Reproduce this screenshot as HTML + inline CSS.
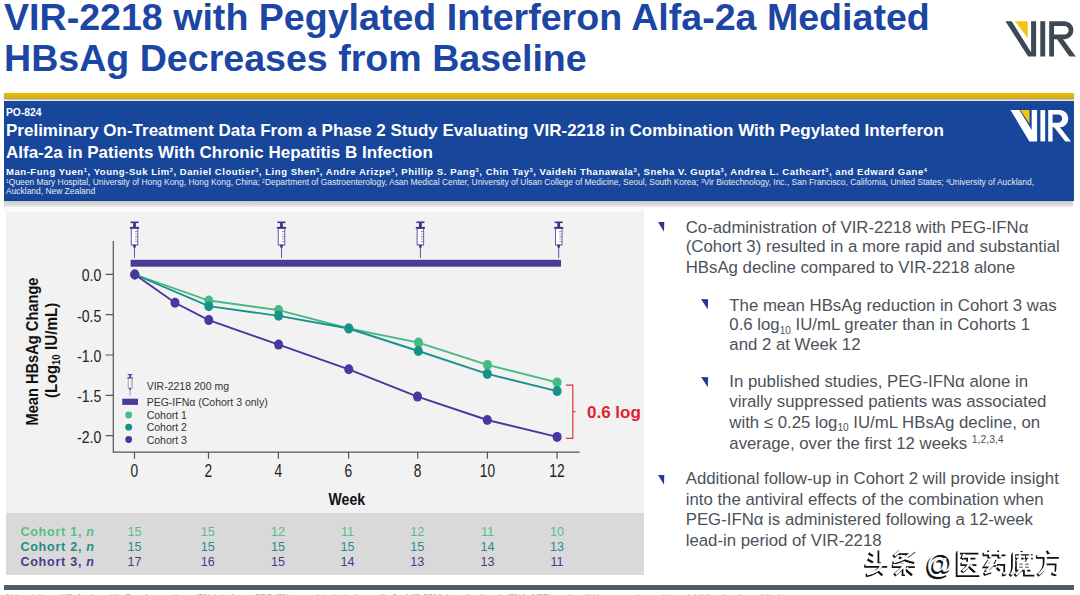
<!DOCTYPE html>
<html><head><meta charset="utf-8">
<style>
*{margin:0;padding:0;box-sizing:border-box}
html,body{width:1080px;height:595px;overflow:hidden;background:#fff;font-family:"Liberation Sans",sans-serif}
.abs{position:absolute;white-space:nowrap}
#t1,#t2{font-weight:bold;color:#1b46a4;font-size:37.6px;line-height:1;left:4px}
#t1{top:-0.8px}
#t2{top:40px}
#ybar{left:4px;top:93px;width:1070px;height:6px;background:linear-gradient(#e7be06,#e2b800 45%,#c8a533);box-shadow:0 1.5px 1.5px rgba(60,60,50,.3)}
#banner{left:4px;top:101px;width:1070px;height:99.6px;background:linear-gradient(#17469a 0,#17469a 97.5%,#1e3d7e 100%)}
#bshadow{left:4px;top:200.6px;width:1069px;height:7px;background:linear-gradient(#c3cde0 0,#d0d4da 1.5px,#d8d8d5 3.5px,#e8e8e4 5px,#f4f4f3 6.2px,rgba(250,250,250,0) 7px)}
.bw{color:#fff;font-weight:bold}
#po{left:6px;top:107px;font-size:10.3px}
#bt1,#bt2{left:6px;font-size:17px}
#bt1{top:121px}
#bt2{top:142.5px}
#auth{left:6px;top:166px;font-size:9.5px;letter-spacing:0.55px}
#aff1,#aff2{left:6px;color:#e6ebf3;font-size:8.45px}
#aff1{top:177px}
#aff2{top:186.3px}
#panel{left:5.5px;top:211.5px;width:638.3px;height:301.5px;background:#f2f2f2}
#pgap{left:4px;top:207px;width:641px;height:5px;background:#f9f9f9}
#table{left:6px;top:513.3px;width:637.8px;height:62px;background:#d9d9d9}
#dbar{left:4px;top:584.8px;width:1070px;height:5.2px;background:#4f5c69}
sup{font-size:60%;vertical-align:0;position:relative;top:-0.45em;line-height:0}
.rt{color:#4d5157;font-size:16.8px;line-height:20px}
.rt sub{font-size:60%;vertical-align:0;position:relative;top:0.35em;line-height:0}
.rt sup.ref{font-size:62%;top:-0.55em}
</style></head><body>
<div class="abs" id="t1">VIR-2218 with Pegylated Interferon Alfa-2a Mediated</div>
<div class="abs" id="t2">HBsAg Decreases from Baseline</div>
<div class="abs" id="ybar"></div>
<div class="abs" id="banner"></div>
<div class="abs" id="bshadow"></div>
<svg class="abs" style="left:0;top:0" width="1080" height="150" viewBox="0 0 1080 150">
<g fill="#3e4852"><path d="M1005.4 21.2H1011.6L1031.1 52.2V21.2H1036.1V56.5H1028.1Z"/>
<rect x="1040.3" y="21.2" width="4.9" height="35.3"/>
<path fill-rule="evenodd" d="M1049.2 21.2H1064.4A9 9 0 0 1 1064.4 39.2H1054V56.5H1049.2ZM1054 26H1064.4A4.2 4.2 0 0 1 1064.4 34.4H1054Z"/>
<path d="M1056.5 38.4H1062.6L1075.8 56.5H1069.4Z"/></g><path d="M1015 21.2H1027.7V38.3Z" fill="#f4c414"/>
<g fill="#fff"><path d="M1010.5 110.1H1019.4L1031.7 130V110.1H1037.1V141.4H1029.4Z"/>
<rect x="1040.4" y="110.1" width="4.8" height="31.3"/>
<path fill-rule="evenodd" d="M1048.2 110.1H1060A8.3 8.55 0 0 1 1060 127.2H1052.6V141.4H1048.2ZM1052.6 114.4H1058A4.2 4.2 0 0 1 1058 122.8H1052.6Z"/>
<path d="M1053.9 127H1059.8L1071 141.4H1065.3Z"/></g>
<path d="M1020.2 110.1H1029.5V123.8Z" fill="#f4c40c"/>
</svg>
<div class="abs bw" id="po">PO-824</div>
<div class="abs bw" id="bt1">Preliminary On-Treatment Data From a Phase 2 Study Evaluating VIR-2218 in Combination With Pegylated Interferon</div>
<div class="abs bw" id="bt2">Alfa-2a in Patients With Chronic Hepatitis B Infection</div>
<div class="abs bw" id="auth">Man-Fung Yuen<sup>1</sup>, Young-Suk Lim<sup>2</sup>, Daniel Cloutier<sup>3</sup>, Ling Shen<sup>3</sup>, Andre Arizpe<sup>3</sup>, Phillip S. Pang<sup>3</sup>, Chin Tay<sup>3</sup>, Vaidehi Thanawala<sup>3</sup>, Sneha V. Gupta<sup>3</sup>, Andrea L. Cathcart<sup>3</sup>, and Edward Gane<sup>4</sup></div>
<div class="abs" id="aff1"><sup>1</sup>Queen Mary Hospital, University of Hong Kong, Hong Kong, China; <sup>2</sup>Department of Gastroenterology, Asan Medical Center, University of Ulsan College of Medicine, Seoul, South Korea; <sup>3</sup>Vir Biotechnology, Inc., San Francisco, California, United States; <sup>4</sup>University of Auckland,</div>
<div class="abs" id="aff2">Auckland, New Zealand</div>
<div class="abs" id="pgap"></div>
<div class="abs" id="panel"></div>
<div class="abs" id="table"></div>
<div class="abs" id="dbar"></div>
<svg class="abs" style="left:0;top:0" width="1080" height="595" viewBox="0 0 1080 595"><g font-family="Liberation Sans" font-size="12.6"><text x="20.4" y="535.8" fill="#5abd82" font-weight="bold" letter-spacing="0.72">Cohort 1, <tspan font-style="italic">n</tspan></text><text x="134.4" y="535.8" fill="#5abd82" text-anchor="middle">15</text><text x="207.8" y="535.8" fill="#5abd82" text-anchor="middle">15</text><text x="278" y="535.8" fill="#5abd82" text-anchor="middle">12</text><text x="347.6" y="535.8" fill="#5abd82" text-anchor="middle">11</text><text x="417.2" y="535.8" fill="#5abd82" text-anchor="middle">12</text><text x="487.6" y="535.8" fill="#5abd82" text-anchor="middle">11</text><text x="557" y="535.8" fill="#5abd82" text-anchor="middle">10</text><text x="20.4" y="550.8" fill="#1f8f86" font-weight="bold" letter-spacing="0.72">Cohort 2, <tspan font-style="italic">n</tspan></text><text x="134.4" y="550.8" fill="#1f8f86" text-anchor="middle">15</text><text x="207.8" y="550.8" fill="#1f8f86" text-anchor="middle">15</text><text x="278" y="550.8" fill="#1f8f86" text-anchor="middle">15</text><text x="347.6" y="550.8" fill="#1f8f86" text-anchor="middle">15</text><text x="417.2" y="550.8" fill="#1f8f86" text-anchor="middle">15</text><text x="487.6" y="550.8" fill="#1f8f86" text-anchor="middle">14</text><text x="557" y="550.8" fill="#1f8f86" text-anchor="middle">13</text><text x="20.4" y="566.1" fill="#463c8c" font-weight="bold" letter-spacing="0.72">Cohort 3, <tspan font-style="italic">n</tspan></text><text x="134.4" y="566.1" fill="#463c8c" text-anchor="middle">17</text><text x="207.8" y="566.1" fill="#463c8c" text-anchor="middle">16</text><text x="278" y="566.1" fill="#463c8c" text-anchor="middle">15</text><text x="347.6" y="566.1" fill="#463c8c" text-anchor="middle">14</text><text x="417.2" y="566.1" fill="#463c8c" text-anchor="middle">13</text><text x="487.6" y="566.1" fill="#463c8c" text-anchor="middle">13</text><text x="557" y="566.1" fill="#463c8c" text-anchor="middle">11</text></g></svg>
<svg class="abs" id="chart" style="left:0;top:0" width="1080" height="595" viewBox="0 0 1080 595">
<defs>
<g id="syr">
<rect x="-4" y="0" width="8" height="1.6" fill="#3d3187"/>
<rect x="-1.4" y="1.4" width="2.8" height="4.6" fill="#3d3187"/>
<rect x="-4.6" y="5.4" width="9.2" height="1.7" fill="#3d3187"/>
<rect x="-3.3" y="7" width="6.6" height="16.5" fill="#fff" stroke="#3d3187" stroke-width="0.8"/>
<path d="M0.6 10h2M0.6 12.5h1.5M0.6 15h2M0.6 17.5h1.5M0.6 20h2" stroke="#3d3187" stroke-width="0.55"/>
<path d="M-1.6 23.3L1.6 23.3L0.7 27L-0.7 27Z" fill="#3d3187"/>
<line x1="0" y1="27" x2="0" y2="36.5" stroke="#3d3187" stroke-width="0.8"/>
</g>
</defs>
<use href="#syr" x="134.5" y="221.5"/>
<use href="#syr" x="281.5" y="221.5"/>
<use href="#syr" x="420.4" y="221.5"/>
<use href="#syr" x="558.7" y="221.5"/>
<rect x="130.6" y="259.8" width="430.4" height="6.9" fill="#4a3c96"/>
<g stroke="#555" stroke-width="1.2" fill="none">
<path d="M113.3 241V452.2H579.7"/>
<path d="M105.6 274.3H113.3M105.6 314.7H113.3M105.6 355H113.3M105.6 395.4H113.3M105.6 435.7H113.3"/>
<path d="M134.5 452V458.7M208.5 452V458.7M278.4 452V458.7M348.6 452V458.7M417.7 452V458.7M487.4 452V458.7M557.1 452V458.7"/>
</g>
<g font-family="Liberation Sans" font-size="16" fill="#222" text-anchor="end">
<text transform="translate(101.3,281.2) scale(0.88,1)">0.0</text>
<text transform="translate(101.3,321.6) scale(0.88,1)">-0.5</text>
<text transform="translate(101.3,361.9) scale(0.88,1)">-1.0</text>
<text transform="translate(101.3,402.3) scale(0.88,1)">-1.5</text>
<text transform="translate(101.3,442.6) scale(0.88,1)">-2.0</text>
</g>
<g font-family="Liberation Sans" font-size="18.6" fill="#222" text-anchor="middle">
<text transform="translate(134.4,477.1) scale(0.74,1)">0</text>
<text transform="translate(208.3,477.1) scale(0.74,1)">2</text>
<text transform="translate(278.3,477.1) scale(0.74,1)">4</text>
<text transform="translate(348.4,477.1) scale(0.74,1)">6</text>
<text transform="translate(417.5,477.1) scale(0.74,1)">8</text>
<text transform="translate(487.4,477.1) scale(0.74,1)">10</text>
<text transform="translate(557,477.1) scale(0.74,1)">12</text>
</g>
<text transform="translate(346.8,505) scale(0.88,1)" font-family="Liberation Sans" font-weight="bold" font-size="16" fill="#111" text-anchor="middle">Week</text>
<g font-family="Liberation Sans" font-weight="bold" font-size="16" fill="#111" text-anchor="middle">
<text transform="translate(37.6,351.5) rotate(-90) scale(0.915,1)">Mean HBsAg Change</text>
<text transform="translate(57.4,350.3) rotate(-90) scale(0.955,1)">(Log<tspan font-size="10" dy="3">10</tspan><tspan dy="-3"> IU/mL)</tspan></text>
</g>
<polyline points="134.8,274.5 208.8,300.5 278.6,310.1 348.8,328.5 418.5,342.6 487.5,364.9 557.1,382.4" fill="none" stroke="#47b982" stroke-width="1.85"/><polyline points="134.8,274.5 208.8,306.2 278.6,315.8 348.8,328.5 418.3,351.0 487.3,373.9 557.1,391.1" fill="none" stroke="#17928a" stroke-width="1.85"/><polyline points="134.8,274.5 175,302.8 208.8,320.1 278.6,344.6 348.8,369.3 417.5,396.6 487.3,420 557.1,436.9" fill="none" stroke="#4a36a0" stroke-width="1.85"/>
<ellipse cx="134.8" cy="274.5" rx="4.5" ry="5" fill="#47b982"/><ellipse cx="208.8" cy="300.5" rx="4.5" ry="5" fill="#47b982"/><ellipse cx="278.6" cy="310.1" rx="4.5" ry="5" fill="#47b982"/><ellipse cx="348.8" cy="328.5" rx="4.5" ry="5" fill="#47b982"/><ellipse cx="418.5" cy="342.6" rx="4.5" ry="5" fill="#47b982"/><ellipse cx="487.5" cy="364.9" rx="4.5" ry="5" fill="#47b982"/><ellipse cx="557.1" cy="382.4" rx="4.5" ry="5" fill="#47b982"/><ellipse cx="134.8" cy="274.5" rx="4.5" ry="5" fill="#17928a"/><ellipse cx="208.8" cy="306.2" rx="4.5" ry="5" fill="#17928a"/><ellipse cx="278.6" cy="315.8" rx="4.5" ry="5" fill="#17928a"/><ellipse cx="348.8" cy="328.5" rx="4.5" ry="5" fill="#17928a"/><ellipse cx="418.3" cy="351.0" rx="4.5" ry="5" fill="#17928a"/><ellipse cx="487.3" cy="373.9" rx="4.5" ry="5" fill="#17928a"/><ellipse cx="557.1" cy="391.1" rx="4.5" ry="5" fill="#17928a"/><ellipse cx="134.8" cy="274.5" rx="4.5" ry="5" fill="#4a36a0"/><ellipse cx="175" cy="302.8" rx="4.5" ry="5" fill="#4a36a0"/><ellipse cx="208.8" cy="320.1" rx="4.5" ry="5" fill="#4a36a0"/><ellipse cx="278.6" cy="344.6" rx="4.5" ry="5" fill="#4a36a0"/><ellipse cx="348.8" cy="369.3" rx="4.5" ry="5" fill="#4a36a0"/><ellipse cx="417.5" cy="396.6" rx="4.5" ry="5" fill="#4a36a0"/><ellipse cx="487.3" cy="420" rx="4.5" ry="5" fill="#4a36a0"/><ellipse cx="557.1" cy="436.9" rx="4.5" ry="5" fill="#4a36a0"/>
<path d="M566 385.1H572.8V438.3H566M572.8 411.6H575.5" stroke="#e0353f" stroke-width="1.2" fill="none"/>
<text x="587" y="417.6" font-family="Liberation Sans" font-weight="bold" font-size="17" fill="#e2212e">0.6 log</text>
<use href="#syr" transform="translate(130.1,374.2) scale(0.6,0.59)"/>
<rect x="122.2" y="398.7" width="15.8" height="6.2" fill="#4a3c96"/>
<circle cx="128.7" cy="415" r="3.4" fill="#47b982"/>
<circle cx="128.7" cy="427.2" r="3.4" fill="#17928a"/>
<circle cx="128.7" cy="439.5" r="3.4" fill="#4a36a0"/>
<g font-family="Liberation Sans" font-size="10.5" fill="#333">
<text x="146.7" y="389.6">VIR-2218 200 mg</text>
<text x="146.7" y="405.6">PEG-IFN&#945; (Cohort 3 only)</text>
<text x="146.7" y="419">Cohort 1</text>
<text x="146.7" y="431.2">Cohort 2</text>
<text x="146.7" y="443.5">Cohort 3</text>
</g>
</svg>

<div class="abs rt" id="r0" style="left:685.7px;top:217.9px">Co-administration of VIR-2218 with PEG-IFN&#945;</div>
<div class="abs rt" id="r1" style="left:685.7px;top:237.3px">(Cohort 3) resulted in a more rapid and substantial</div>
<div class="abs rt" id="r2" style="left:685.7px;top:257.7px">HBsAg decline compared to VIR-2218 alone</div>
<div class="abs rt" id="r3" style="left:729.3px;top:295.5px">The mean HBsAg reduction in Cohort 3 was</div>
<div class="abs rt" id="r4" style="left:729.3px;top:315.4px">0.6 log<sub>10</sub> IU/mL greater than in Cohorts 1</div>
<div class="abs rt" id="r5" style="left:729.3px;top:335.3px">and 2 at Week 12</div>
<div class="abs rt" id="r6" style="left:729.3px;top:371.9px">In published studies, PEG-IFN&#945; alone in</div>
<div class="abs rt" id="r7" style="left:729.3px;top:391.8px">virally suppressed patients was associated</div>
<div class="abs rt" id="r8" style="left:729.3px;top:412.9px">with &#8804; 0.25 log<sub>10</sub> IU/mL HBsAg decline, on</div>
<div class="abs rt" id="r9" style="left:729.3px;top:433.6px">average, over the first 12 weeks <sup class="ref">1,2,3,4</sup></div>
<div class="abs rt" id="r10" style="left:685.7px;top:469.4px">Additional follow-up in Cohort 2 will provide insight</div>
<div class="abs rt" id="r11" style="left:685.7px;top:490.1px">into the antiviral effects of the combination when</div>
<div class="abs rt" id="r12" style="left:685.7px;top:510.4px">PEG-IFN&#945; is administered following a 12-week</div>
<div class="abs rt" id="r13" style="left:685.7px;top:531.1px">lead-in period of VIR-2218</div>
<svg class="abs" style="left:657.7px;top:221.9px" width="8" height="11" viewBox="0 0 8 11"><path d="M0 0L6.3 0L6 9.8Z" fill="#2a3990"/></svg>
<svg class="abs" style="left:700.8px;top:298.8px" width="8" height="11" viewBox="0 0 8 11"><path d="M0 0L7.1 0.3L6.8 10.6Z" fill="#2a3990"/></svg>
<svg class="abs" style="left:700.6px;top:377.1px" width="8" height="11" viewBox="0 0 8 11"><path d="M0 0L7.1 0.3L6.8 10.2Z" fill="#2a3990"/></svg>
<svg class="abs" style="left:657.7px;top:474.9px" width="8" height="11" viewBox="0 0 8 11"><path d="M0 0L6.3 0L6 9.8Z" fill="#2a3990"/></svg>
<div class="abs" id="foot" style="left:5px;top:591.5px;font-size:8px;color:#9a9a9a;letter-spacing:0.2px">Abbreviations: HBsAg, hepatitis B surface antigen; IFN, interferon; PEG-IFN&#945;, pegylated interferon alfa-2a; VIR-2218, investigational siRNA; NRTI, nucleos(t)ide reverse transcriptase inhibitor; log, log<sub>10</sub> IU/mL</div>
<svg class="abs" style="left:0;top:0" width="1080" height="595" viewBox="0 0 1080 595">
<g fill="none" stroke="#111" stroke-width="3.3"><path transform="translate(863.7,550.6)" d="M5 2.5L9.5 5M4 8.5L9.5 11.5M15.5 0V13M0.5 15.5H23.5M17 15.5Q13 23.5 2 25M14 20L19 24.5"/><path transform="translate(891.3000000000001,550.9)" d="M9 0L2 6M7 2.5H20L14 7M8 6Q14 10 23 11.5M14.5 7Q9 11 1 12.5M0.5 15.5H23.5M12 12.5V25M11 17L3 24.5M14 18L21 24"/><path transform="translate(955.4000000000001,551.3)" d="M1 1.5H23M2 1.5V24H24M8 4L6 8M7 6.5H20M5 13H21M12.5 6.5V13Q11 18 6 21M13.5 15L20 21"/><path transform="translate(982.0,550.5)" d="M0.5 4H23.5M7 0V8M17 0V8M7 10L3 16H9L3 22M1.5 24L9 21.5M15 10L12 16M14 13.5H23V23Q23 24.5 20 24M15 17L18 20"/><path transform="translate(1008.7,550.9)" d="M13 0L14 2.5M3 3.5H24M4 3.5V16Q4 22 1 25M6 7H15M16 7H24M10 5V12M20 5V12M9 9L7 12M19 9L17 12M8 13H20V19H8ZM14 13V19M8 16H20M12 19L6 25M16 19V24H24V22"/><path transform="translate(1035.4,550.5)" d="M12 0L13.5 3.5M0.5 6.5H23.5M9 6.5V13Q9 20 2 25M9 13H21Q21 23 19.5 24L16 23"/></g>
<g fill="none" stroke="#fff" stroke-width="2.4"><path transform="translate(865.0,549.3)" d="M5 2.5L9.5 5M4 8.5L9.5 11.5M15.5 0V13M0.5 15.5H23.5M17 15.5Q13 23.5 2 25M14 20L19 24.5"/><path transform="translate(892.6,549.6)" d="M9 0L2 6M7 2.5H20L14 7M8 6Q14 10 23 11.5M14.5 7Q9 11 1 12.5M0.5 15.5H23.5M12 12.5V25M11 17L3 24.5M14 18L21 24"/><path transform="translate(956.7,550.0)" d="M1 1.5H23M2 1.5V24H24M8 4L6 8M7 6.5H20M5 13H21M12.5 6.5V13Q11 18 6 21M13.5 15L20 21"/><path transform="translate(983.3,549.2)" d="M0.5 4H23.5M7 0V8M17 0V8M7 10L3 16H9L3 22M1.5 24L9 21.5M15 10L12 16M14 13.5H23V23Q23 24.5 20 24M15 17L18 20"/><path transform="translate(1010.0,549.6)" d="M13 0L14 2.5M3 3.5H24M4 3.5V16Q4 22 1 25M6 7H15M16 7H24M10 5V12M20 5V12M9 9L7 12M19 9L17 12M8 13H20V19H8ZM14 13V19M8 16H20M12 19L6 25M16 19V24H24V22"/><path transform="translate(1036.7,549.2)" d="M12 0L13.5 3.5M0.5 6.5H23.5M9 6.5V13Q9 20 2 25M9 13H21Q21 23 19.5 24L16 23"/></g>
<text x="924.6" y="574.5" font-family="Liberation Sans" font-size="27" fill="#111" stroke="#111" stroke-width="0.8">@</text>
<text x="926" y="573.2" font-family="Liberation Sans" font-size="27" fill="#fff">@</text>
</svg>
</body></html>
